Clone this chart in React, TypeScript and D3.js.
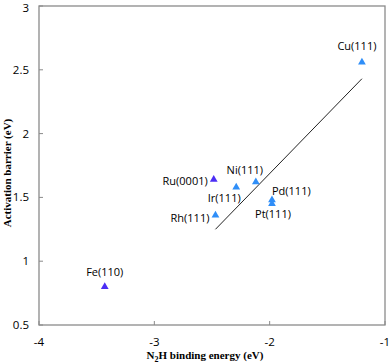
import { useEffect, useRef } from "react";
import * as d3 from "d3";

const labels = ["Cu(111)", "Fe(110)", "Ru(0001)", "Rh(111)", "Ir(111)", "Ni(111)", "Pd(111)", "Pt(111)"];
const bindingEnergy = [-1.2, -3.43, -2.485, -2.47, -2.29, -2.12, -1.98, -1.98];
const barrier = [2.56, 0.8, 1.64, 1.36, 1.58, 1.62, 1.48, 1.45];
const groups = ["blue", "purple", "purple", "blue", "blue", "blue", "blue", "blue"];
const fitX = [-2.47, -1.2];
const fitY = [1.25, 2.43];
const xTicks = [-4, -3, -2, -1];
const yTicks = [0.5, 1, 1.5, 2, 2.5, 3];

// label placement: [dx, dy, anchor]
const labelPos: Record<string, [number, number, string]> = {
  "Cu(111)": [-5, -12, "middle"],
  "Fe(110)": [0, -11, "middle"],
  "Ru(0001)": [-6, 5, "end"],
  "Rh(111)": [-6, 7, "end"],
  "Ir(111)": [-12, 15, "middle"],
  "Ni(111)": [-11, -8, "middle"],
  "Pd(111)": [0, -5, "start"],
  "Pt(111)": [1, 14, "middle"],
};

const colors: Record<string, string> = { blue: "#2f8ef8", purple: "#4b2ef5" };

const W = 392;
const H = 363;
const margin = { left: 39, top: 6, right: 7, bottom: 38 };

const App = () => {
  const svgRef = useRef<SVGSVGElement>(null);

  useEffect(() => {
    const svg = d3.select(svgRef.current);
    svg.selectAll("*").remove();

    const x = d3.scaleLinear().domain([-4, -1]).range([margin.left, W - margin.right]);
    const y = d3.scaleLinear().domain([0.5, 3]).range([H - margin.bottom, margin.top]);
    const font = "'Open Sans', 'Liberation Sans', sans-serif";

    // frame
    svg
      .append("rect")
      .attr("x", x(-4))
      .attr("y", y(3))
      .attr("width", x(-1) - x(-4))
      .attr("height", y(0.5) - y(3))
      .attr("fill", "none")
      .attr("stroke", "#8a8a8a")
      .attr("stroke-width", 1.3);

    // ticks (inward)
    svg
      .append("g")
      .selectAll("line")
      .data(xTicks)
      .join("line")
      .attr("x1", (d) => x(d))
      .attr("x2", (d) => x(d))
      .attr("y1", y(0.5))
      .attr("y2", y(0.5) - 4)
      .attr("stroke", "#8a8a8a");
    svg
      .append("g")
      .selectAll("line")
      .data(yTicks)
      .join("line")
      .attr("x1", x(-4))
      .attr("x2", x(-4) + 4)
      .attr("y1", (d) => y(d))
      .attr("y2", (d) => y(d))
      .attr("stroke", "#8a8a8a");

    svg
      .append("g")
      .selectAll("text")
      .data(xTicks)
      .join("text")
      .attr("x", (d) => x(d))
      .attr("y", y(0.5) + 21)
      .attr("text-anchor", "middle")
      .style("font-family", font)
      .style("font-size", "11.5px")
      .text((d) => String(d));
    svg
      .append("g")
      .selectAll("text")
      .data(yTicks)
      .join("text")
      .attr("x", x(-4) - 10)
      .attr("y", (d) => Math.max(y(d) + 4, 12))
      .attr("text-anchor", "end")
      .style("font-family", font)
      .style("font-size", "11.5px")
      .text((d) => String(d));

    // axis titles
    const xt = svg
      .append("text")
      .attr("x", 205)
      .attr("y", 359)
      .attr("text-anchor", "middle")
      .style("font-family", "'Liberation Serif', serif")
      .style("font-weight", "bold")
      .style("font-size", "11px");
    xt.append("tspan").text("N");
    xt.append("tspan").attr("dy", 3).style("font-size", "8px").text("2");
    xt.append("tspan").attr("dy", -3).text("H binding energy (eV)");

    svg
      .append("text")
      .attr("transform", `translate(11,173) rotate(-90)`)
      .attr("text-anchor", "middle")
      .style("font-family", "'Liberation Serif', serif")
      .style("font-weight", "bold")
      .style("font-size", "11px")
      .text("Activation barrier (eV)");

    // fit line
    svg
      .append("line")
      .attr("x1", x(fitX[0]))
      .attr("y1", y(fitY[0]))
      .attr("x2", x(fitX[1]))
      .attr("y2", y(fitY[1]))
      .attr("stroke", "#222")
      .attr("stroke-width", 1);

    const pts = labels.map((l, i) => ({ l, x: bindingEnergy[i], y: barrier[i], g: groups[i] }));
    const tri = d3.symbol().type(d3.symbolTriangle).size(26);

    svg
      .append("g")
      .selectAll("path")
      .data(pts)
      .join("path")
      .attr("d", tri)
      .attr("transform", (d) => `translate(${x(d.x)},${y(d.y)})`)
      .attr("fill", (d) => colors[d.g]);

    svg
      .append("g")
      .selectAll("text")
      .data(pts)
      .join("text")
      .attr("x", (d) => x(d.x) + labelPos[d.l][0])
      .attr("y", (d) => y(d.y) + labelPos[d.l][1])
      .attr("text-anchor", (d) => labelPos[d.l][2])
      .style("font-family", font)
      .style("font-size", "11px")
      .text((d) => d.l);
  }, []);

  return (
    <div style={{ position: "absolute", left: 0, top: 0 }}>
      <svg ref={svgRef} width={W} height={H} style={{ display: "block", background: "#fff" }} />
    </div>
  );
};

export default App;
